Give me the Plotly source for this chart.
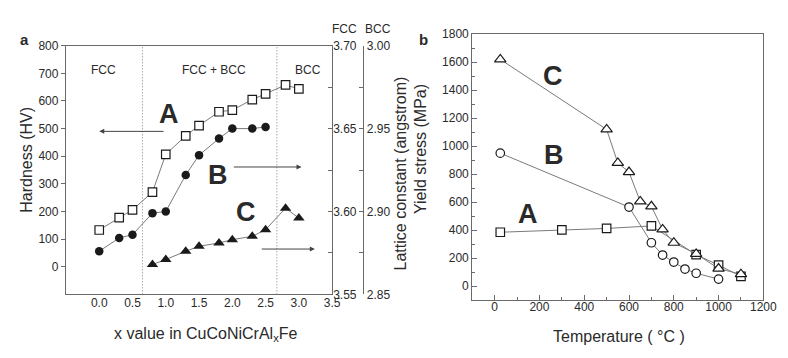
import plotly.graph_objects as go

# ---------------- data ----------------
# Panel a: x value in CuCoNiCrAlxFe
x_hard = [0.0, 0.3, 0.5, 0.8, 1.0, 1.3, 1.5, 1.8, 2.0, 2.3, 2.5, 2.8, 3.0]
hardness = [133, 178, 206, 270, 407, 474, 511, 561, 567, 605, 626, 658, 644]

x_fcc = [0.0, 0.3, 0.5, 0.8, 1.0, 1.3, 1.5, 1.8, 2.0, 2.3, 2.5]
lat_fcc = [3.576, 3.584, 3.586, 3.599, 3.600, 3.622, 3.634, 3.644, 3.650, 3.650, 3.651]

x_bcc = [0.8, 1.0, 1.3, 1.5, 1.8, 2.0, 2.3, 2.5, 2.8, 3.0]
lat_bcc = [2.868, 2.871, 2.876, 2.879, 2.881, 2.883, 2.885, 2.889, 2.902, 2.896]

phase_bounds = [0.65, 2.67]

# Panel b: temperature (C) vs yield stress (MPa)
temp_A = [25, 300, 500, 700, 900, 1000, 1100]
ys_A = [385, 402, 412, 430, 225, 150, 70]

temp_B = [25, 600, 700, 750, 800, 850, 900, 1000]
ys_B = [950, 565, 310, 222, 172, 122, 92, 50]

temp_C = [25, 500, 550, 600, 650, 700, 750, 800, 900, 1000, 1100]
ys_C = [1620, 1120, 880, 815, 605, 570, 405, 310, 230, 125, 85]

# tick labels
xa_ticks = [0.0, 0.5, 1.0, 1.5, 2.0, 2.5, 3.0, 3.5]
hard_ticks = [0, 100, 200, 300, 400, 500, 600, 700, 800]
fcc_ticks = [3.55, 3.60, 3.65, 3.70]
bcc_ticks = [2.85, 2.90, 2.95, 3.00]
temp_ticks = [0, 200, 400, 600, 800, 1000, 1200]
ys_ticks = [0, 200, 400, 600, 800, 1000, 1200, 1400, 1600, 1800]

# ---------------- layout helpers ----------------
W, H = 788, 358
def px(x):
    return x / W
def py(y):
    return 1 - y / H

FONT = "Liberation Sans, Arial, Helvetica, sans-serif"
TXT = "#2a2a2a"
AX = "#6a6a6a"
LINE = "#7a7a7a"
MK = "#1a1a1a"

fig = go.Figure()

# panel a traces
fig.add_trace(go.Scatter(x=x_hard, y=hardness, mode="lines+markers", xaxis="x", yaxis="y",
                         line=dict(color=LINE, width=1),
                         marker=dict(symbol="square", size=8.5, color="white", line=dict(color=MK, width=1.2))))
fig.add_trace(go.Scatter(x=x_fcc, y=lat_fcc, mode="lines+markers", xaxis="x", yaxis="y2",
                         line=dict(color=LINE, width=1),
                         marker=dict(symbol="circle", size=8.5, color=MK, line=dict(width=0))))
fig.add_trace(go.Scatter(x=x_bcc, y=lat_bcc, mode="lines+markers", xaxis="x", yaxis="y3",
                         line=dict(color=LINE, width=1),
                         marker=dict(symbol="triangle-up", size=10, color=MK, line=dict(width=0))))

# panel b traces
fig.add_trace(go.Scatter(x=temp_A, y=ys_A, mode="lines+markers", xaxis="x2", yaxis="y4",
                         line=dict(color=LINE, width=1),
                         marker=dict(symbol="square", size=8.5, color="white", line=dict(color=MK, width=1.2))))
fig.add_trace(go.Scatter(x=temp_B, y=ys_B, mode="lines+markers", xaxis="x2", yaxis="y4",
                         line=dict(color=LINE, width=1),
                         marker=dict(symbol="circle", size=8.5, color="white", line=dict(color=MK, width=1.2))))
fig.add_trace(go.Scatter(x=temp_C, y=ys_C, mode="lines+markers", xaxis="x2", yaxis="y4",
                         line=dict(color=LINE, width=1),
                         marker=dict(symbol="triangle-up", size=10, color="white", line=dict(color=MK, width=1.2))))

tickfont = dict(family=FONT, size=12, color=TXT)

fig.update_layout(
    width=W, height=H, margin=dict(l=0, r=0, t=0, b=0),
    paper_bgcolor="white", plot_bgcolor="white", showlegend=False,
    font=dict(family=FONT, color=TXT),
    xaxis=dict(domain=[px(59), px(330)], range=[-0.5, 3.5], anchor="y",
               tickvals=xa_ticks, ticktext=[f"{v:.1f}" for v in xa_ticks], ticks="",
               showline=True, linecolor=AX, linewidth=1.2, mirror=True,
               showgrid=False, zeroline=False, tickfont=tickfont, ticklabelstandoff=-3),
    yaxis=dict(domain=[py(290.7), py(32)], range=[-100, 800], anchor="x",
               tickvals=hard_ticks, ticks="outside", ticklen=4, tickcolor=AX,
               showline=True, linecolor=AX, linewidth=1.2, mirror=True,
               showgrid=False, zeroline=False, tickfont=tickfont),
    yaxis2=dict(overlaying="y", side="right", anchor="x", range=[3.55, 3.70],
                tickvals=fcc_ticks, ticktext=[f"{v:.2f}" for v in fcc_ticks],
                ticks="inside", ticklen=4, tickcolor=AX,
                minor=dict(tickvals=[3.575, 3.625, 3.675], ticks="inside", ticklen=4, tickcolor=AX),
                showline=False, showgrid=False, zeroline=False, tickfont=tickfont),
    yaxis3=dict(overlaying="y", side="right", anchor="free", position=px(361.7), range=[2.85, 3.00],
                tickvals=bcc_ticks, ticktext=[f"{v:.2f}" for v in bcc_ticks],
                ticks="inside", ticklen=4, tickcolor=AX,
                minor=dict(tickvals=[2.875, 2.925, 2.975], ticks="inside", ticklen=4, tickcolor=AX),
                showline=True, linecolor=AX, linewidth=1.2,
                showgrid=False, zeroline=False, tickfont=tickfont),
    xaxis2=dict(domain=[px(472.7), px(769)], range=[-100, 1200], anchor="y4",
                tickvals=temp_ticks, ticks="inside", ticklen=5, tickcolor=AX,
                minor=dict(dtick=100, tick0=0, ticks="inside", ticklen=3, tickcolor=AX),
                showline=True, linecolor=AX, linewidth=1.2, mirror=True,
                showgrid=False, zeroline=False, tickfont=tickfont, ticklabelstandoff=-5),
    yaxis4=dict(domain=[py(296.7), py(20)], range=[-100, 1800], anchor="x2",
                tickvals=ys_ticks, ticks="inside", ticklen=5, tickcolor=AX,
                minor=dict(dtick=100, tick0=0, ticks="inside", ticklen=3, tickcolor=AX),
                showline=True, linecolor=AX, linewidth=1.2, mirror=True,
                showgrid=False, zeroline=False, tickfont=tickfont),
)

# phase boundary dotted lines
for xb in phase_bounds:
    fig.add_shape(type="line", xref="x", yref="y domain", x0=xb, x1=xb, y0=0, y1=1,
                  line=dict(color="#808080", width=1, dash="1px,2px"))

ann = []
def text(x, y, s, size=12, bold=False, angle=0, xanchor="center"):
    ann.append(dict(x=px(x), y=py(y), xref="paper", yref="paper", text=(f"<b>{s}</b>" if bold else s),
                    showarrow=False, textangle=angle, xanchor=xanchor, yanchor="middle",
                    font=dict(family=FONT, size=size, color=TXT)))

# panel labels
text(17, 26, "a", size=15, bold=True)
text(423, 25, "b", size=15, bold=True)
# phase region labels
text(97, 57, "FCC", size=12)
text(210, 57, "FCC + BCC", size=12)
text(305, 57, "BCC", size=12)
text(343, 15, "FCC", size=12)
text(377, 15, "BCC", size=12)
# series letters panel a
text(164, 103, "A", size=27, bold=True)
text(214, 166, "B", size=27, bold=True)
text(242, 205, "C", size=27, bold=True)
# series letters panel b
text(555, 63, "C", size=27, bold=True)
text(556, 146, "B", size=27, bold=True)
text(529, 207, "A", size=27, bold=True)
# axis titles
text(18, 151, "Hardness (HV)", size=16, angle=-90)
text(202, 333, "x value in CuCoNiCrAl<sub>x</sub>Fe", size=16)
text(400, 165, "Lattice constant (angstrom)", size=16, angle=-90)
text(420, 140, "Yield stress (MPa)", size=16, angle=-90)
text(622, 335, "Temperature ( °C )", size=16)

# arrows (tail -> head), in axis coordinates of panel a
arrows = [((0.99, 490), (0.0, 490)), ((2.0, 361), (3.04, 361)), ((2.42, 64), (3.24, 64))]
for (tx, ty), (hx, hy) in arrows:
    ann.append(dict(x=hx, y=hy, ax=tx, ay=ty, xref="x", yref="y", axref="x", ayref="y",
                    text="", showarrow=True, arrowhead=2, arrowsize=1, arrowwidth=1,
                    arrowcolor="#444"))

fig.update_layout(annotations=ann)
fig.write_html("out.html")
